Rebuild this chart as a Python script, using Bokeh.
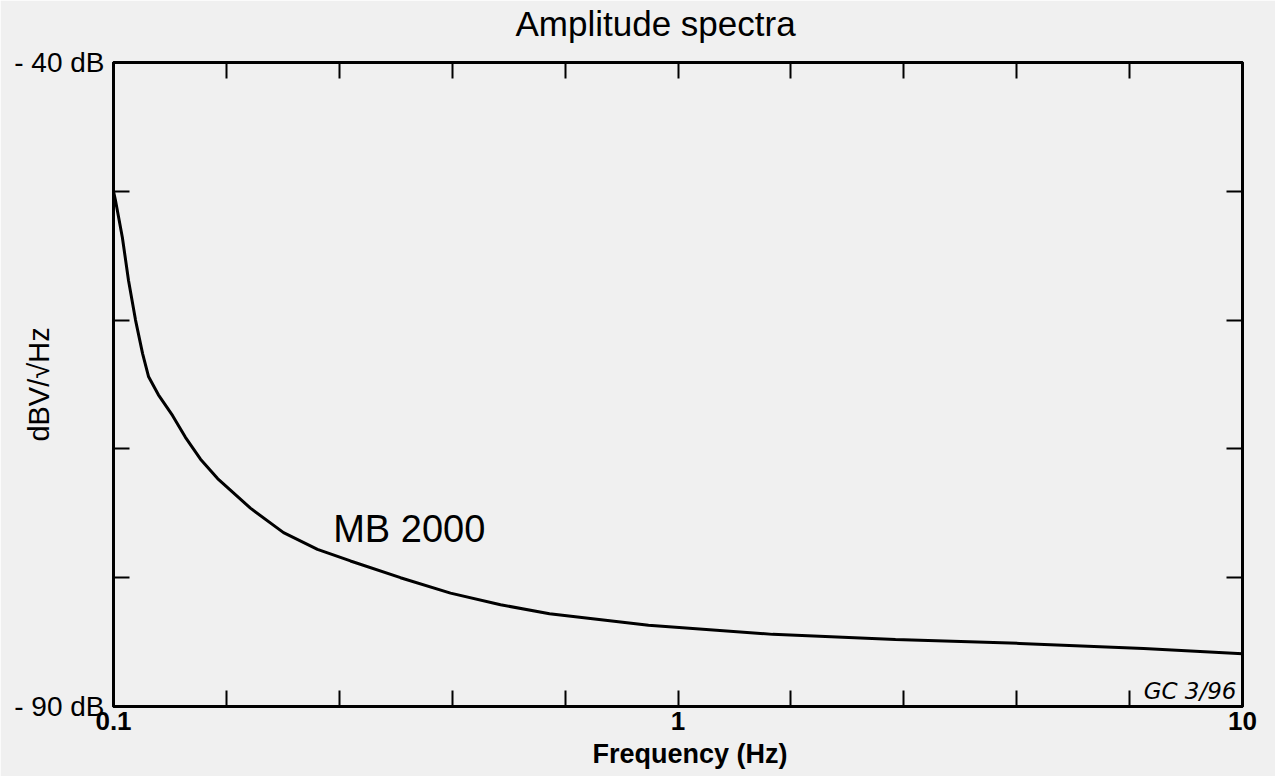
from bokeh.plotting import figure
from bokeh.models import LogAxis, LinearAxis, FixedTicker, Label, Range1d, Title
from bokeh.embed import file_html
from bokeh.resources import INLINE

# ---------------- data ----------------
freq_hz = [0.1, 0.1008, 0.1037, 0.1063, 0.1094, 0.1126, 0.1154, 0.1201, 0.1272,
           0.1341, 0.1426, 0.1529, 0.1748, 0.2001, 0.2298, 0.2629, 0.3224, 0.3954,
           0.4849, 0.5921, 0.8867, 1.471, 2.428, 4.027, 6.68, 10.0]
amp_db = [-50.0, -50.7, -53.6, -56.9, -60.0, -62.6, -64.4, -65.8, -67.4,
          -69.1, -70.8, -72.3, -74.6, -76.5, -77.8, -78.7, -80.0, -81.2,
          -82.1, -82.8, -83.7, -84.4, -84.8, -85.1, -85.5, -85.9]

x_limits = [0.1, 10.0]
y_limits = [-90.0, -40.0]
x_major_ticks = [0.1, 1.0, 10.0]
x_major_labels = ["0.1", "1", "10"]
x_minor_ticks = [0.1585, 0.2512, 0.3981, 0.631, 1.585, 2.512, 3.981, 6.31]
y_ticks = [-90, -80, -70, -60, -50, -40]
y_tick_labels = ["- 90 dB", "", "", "", "", "- 40 dB"]

title_text = "Amplitude spectra"
x_title = "Frequency (Hz)"
y_title = "dBV/\u221aHz"
series_name = "MB 2000"
series_label_pos = (0.245, -76.2)
signature = "GC 3/96"

FONT = "Liberation Sans"
BG = "#f0f0f0"

p = figure(width=1275, height=776, x_axis_type="log",
           x_range=Range1d(*x_limits), y_range=Range1d(*y_limits),
           output_backend="svg", toolbar_location=None,
           min_border_left=113, min_border_right=33,
           min_border_top=62, min_border_bottom=70,
           background_fill_color=BG, border_fill_color=BG,
           outline_line_color="black", outline_line_width=3)
p.grid.visible = False

# title
p.title.text = title_text
p.title.text_font = FONT
p.title.text_font_size = "35px"
p.title.text_font_style = "normal"
p.title.text_color = "black"
p.title.align = "left"
p.title.offset = 402
p.title.vertical_align = "top"
p.title.standoff = 7


def style_axis(ax, labels):
    ax.major_tick_in = 16
    ax.major_tick_out = 0
    ax.minor_tick_in = 16
    ax.minor_tick_out = 0
    ax.major_tick_line_width = 2
    ax.minor_tick_line_width = 2
    ax.major_tick_line_color = "black"
    ax.minor_tick_line_color = "black"
    ax.axis_line_width = 3
    ax.axis_line_color = "black"
    ax.major_label_overrides = labels


x_ticker = FixedTicker(ticks=x_major_ticks, minor_ticks=x_minor_ticks)
y_ticker = FixedTicker(ticks=y_ticks, minor_ticks=[])

# bottom axis
xb = p.xaxis[0]
xb.ticker = x_ticker
style_axis(xb, dict(zip(x_major_ticks, x_major_labels)))
xb.major_label_text_font = FONT
xb.major_label_text_font_size = "26px"
xb.major_label_text_font_style = "bold"
xb.major_label_text_color = "black"
xb.major_label_standoff = 5

# x-axis title, placed as a title below the axis
p.add_layout(Title(text=x_title, align="left", offset=479, standoff=8,
                   text_font=FONT, text_font_size="27px", text_font_style="bold",
                   text_color="black"), "below")

# left axis
yl = p.yaxis[0]
yl.ticker = y_ticker
style_axis(yl, dict(zip(y_ticks, y_tick_labels)))
yl.major_label_text_font = FONT
yl.major_label_text_font_size = "28px"
yl.major_label_text_color = "black"
yl.major_label_standoff = 9
yl.axis_label = y_title
yl.axis_label_text_font = FONT
yl.axis_label_text_font_size = "29px"
yl.axis_label_text_font_style = "normal"
yl.axis_label_text_color = "black"
yl.axis_label_standoff = -44

# top axis (ticks only); its blank labels leave a gap under the title
xt = LogAxis(ticker=x_ticker)
style_axis(xt, {t: " " for t in x_major_ticks})
xt.major_label_text_font_size = "1px"
xt.major_label_standoff = 10
p.add_layout(xt, "above")

# right axis (ticks only)
yr = LinearAxis(ticker=y_ticker)
style_axis(yr, {t: "" for t in y_ticks})
yr.major_label_text_font_size = "1px"
yr.major_label_standoff = 0
p.add_layout(yr, "right")

# curve
p.line(freq_hz, amp_db, line_color="black", line_width=3)

# series label
p.add_layout(Label(x=series_label_pos[0], y=series_label_pos[1], text=series_name,
                   text_align="left", text_baseline="alphabetic",
                   text_font=FONT, text_font_size="38px", text_color="black"))

# signature
p.add_layout(Label(x=x_limits[1], y=y_limits[0], x_offset=-6, y_offset=16,
                   text=signature, text_align="right", text_baseline="alphabetic",
                   text_font="DejaVu Sans", text_font_size="23px",
                   text_font_style="italic", text_color="black"))

open("out.html", "w").write(file_html(p, INLINE))
